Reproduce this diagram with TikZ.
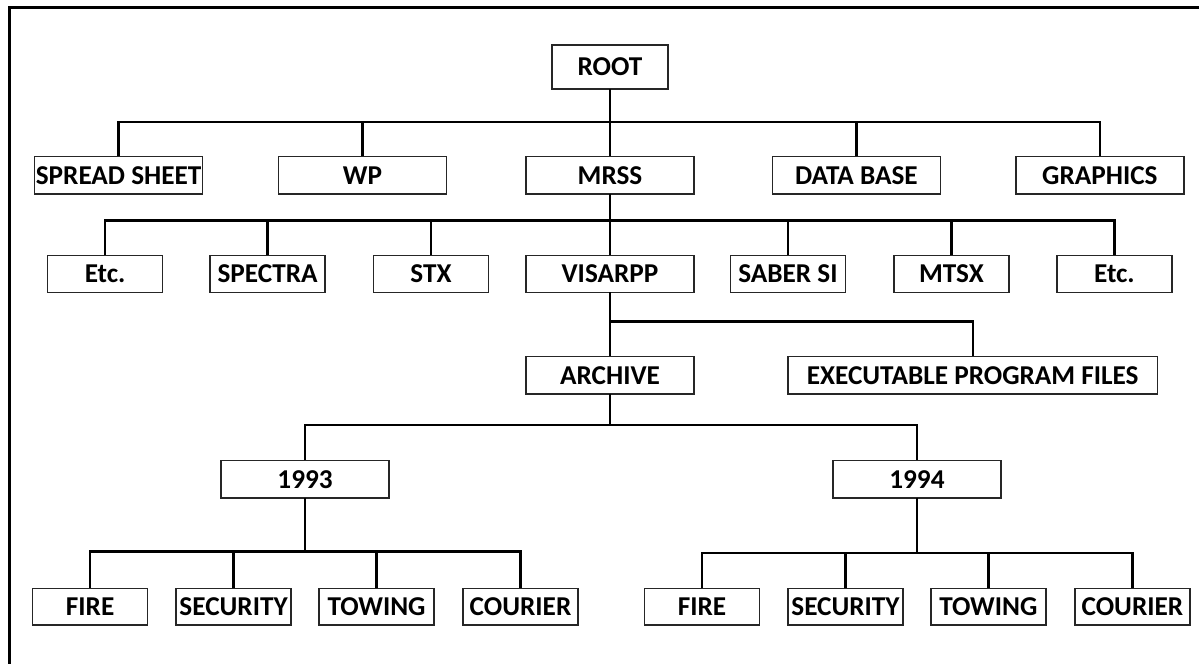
\documentclass[tikz,border=0pt]{standalone}
\usepackage{fontspec}
\setmainfont{Carlito}
\usepackage{tikz}
\usetikzlibrary{positioning}

\begin{document}
\begin{tikzpicture}[
        x=0.02cm, y=-0.02cm,
        box/.style={rectangle, draw=black!85, line width=0.7pt, inner sep=0pt, outer sep=0pt,
                    minimum height=0.75cm, align=center, font=\fontsize{15.5}{18}\selectfont\bfseries},
        wide/.style={box, minimum width=3.36cm},
        small/.style={box, minimum width=2.3cm, minimum height=0.74cm},
        leaf/.style={box, minimum width=2.3cm, minimum height=0.73cm},
        link/.style={line width=1.3pt, black},
    ]
        \useasboundingbox (0,0) rectangle (1199,664);

        % Cadre
        \draw[line width=1.4pt] (1199,7.5) -- (9.5,7.5) -- (9.5,664);

        % Racine
        \node[box, minimum width=2.32cm, minimum height=0.88cm] (root) at (610,67) {ROOT};

        % Premier niveau
        \node[wide, below=1.35cm of root] (mrss) {MRSS};
        \node[wide, left=1.59cm of mrss] (wp) {WP};
        \node[wide, left=1.52cm of wp] (sheet) {SPREAD SHEET};
        \node[wide, right=1.57cm of mrss] (database) {DATA BASE};
        \node[wide, right=1.51cm of database] (graphics) {GRAPHICS};

        % Logiciels sous MRSS
        \node[wide, minimum height=0.74cm, below=1.23cm of mrss] (visarpp) {VISARPP};
        \node[small, left=0.75cm of visarpp] (stx) {STX};
        \node[small, left=0.97cm of stx] (spectra) {SPECTRA};
        \node[small, left=0.95cm of spectra] (etcl) {Etc.};
        \node[small, right=0.73cm of visarpp] (saber) {SABER SI};
        \node[small, right=0.97cm of saber] (mtsx) {MTSX};
        \node[small, right=0.96cm of mtsx] (etcr) {Etc.};

        % Sous VISARPP
        \node[wide, below=1.28cm of visarpp] (archive) {ARCHIVE};
        \node[box, minimum width=7.39cm, right=1.88cm of archive] (exec) {EXECUTABLE PROGRAM FILES};

        % Annees
        \node[wide, below=1.33cm of archive, xshift=-6.1cm] (ya) {1993};
        \node[wide, below=1.33cm of archive, xshift=6.14cm] (yb) {1994};

        % Dossiers 1993
        \node[leaf, below=1.81cm of ya, xshift=-1.43cm] (securA) {SECURITY};
        \node[leaf, below=1.81cm of ya, xshift=1.43cm] (towA) {TOWING};
        \node[leaf, left=0.57cm of securA] (fireA) {FIRE};
        \node[leaf, right=0.58cm of towA] (courA) {COURIER};

        % Dossiers 1994
        \node[leaf, below=1.81cm of yb, xshift=-1.43cm] (securB) {SECURITY};
        \node[leaf, below=1.81cm of yb, xshift=1.43cm] (towB) {TOWING};
        \node[leaf, left=0.57cm of securB] (fireB) {FIRE};
        \node[leaf, right=0.58cm of towB] (courB) {COURIER};

        % Liens
        \coordinate (b1) at ([yshift=-0.66cm]root.south);
        \draw[link] (root.south) -- (mrss.north);
        \draw[link] (sheet.north) |- (b1) -| (graphics.north);
        \foreach \n in {wp, database}
            \draw[link] (\n.north) -- (\n.north |- b1);

        \coordinate (b2) at ([yshift=-0.53cm]mrss.south);
        \draw[link] (mrss.south) -- (visarpp.north);
        \draw[link] (etcl.north) |- (b2) -| (etcr.north);
        \foreach \n in {spectra, stx, saber, mtsx}
            \draw[link] (\n.north) -- (\n.north |- b2);

        \coordinate (b3) at ([yshift=-0.58cm]visarpp.south);
        \draw[link] (visarpp.south) -- (archive.north);
        \draw[link] (b3) -| (exec.north);

        \coordinate (b4) at ([yshift=-0.62cm]archive.south);
        \draw[link] (archive.south) -- (b4);
        \draw[link] (ya.north) |- (b4) -| (yb.north);

        \coordinate (b5) at ([yshift=-1.07cm]ya.south);
        \draw[link] (ya.south) -- (b5);
        \draw[link] (fireA.north) |- (b5) -| (courA.north);
        \foreach \n in {securA, towA}
            \draw[link] (\n.north) -- (\n.north |- b5);

        \coordinate (b6) at ([yshift=-1.1cm]yb.south);
        \draw[link] (yb.south) -- (b6);
        \draw[link] (fireB.north) |- (b6) -| (courB.north);
        \foreach \n in {securB, towB}
            \draw[link] (\n.north) -- (\n.north |- b6);
    \end{tikzpicture}
\end{document}
